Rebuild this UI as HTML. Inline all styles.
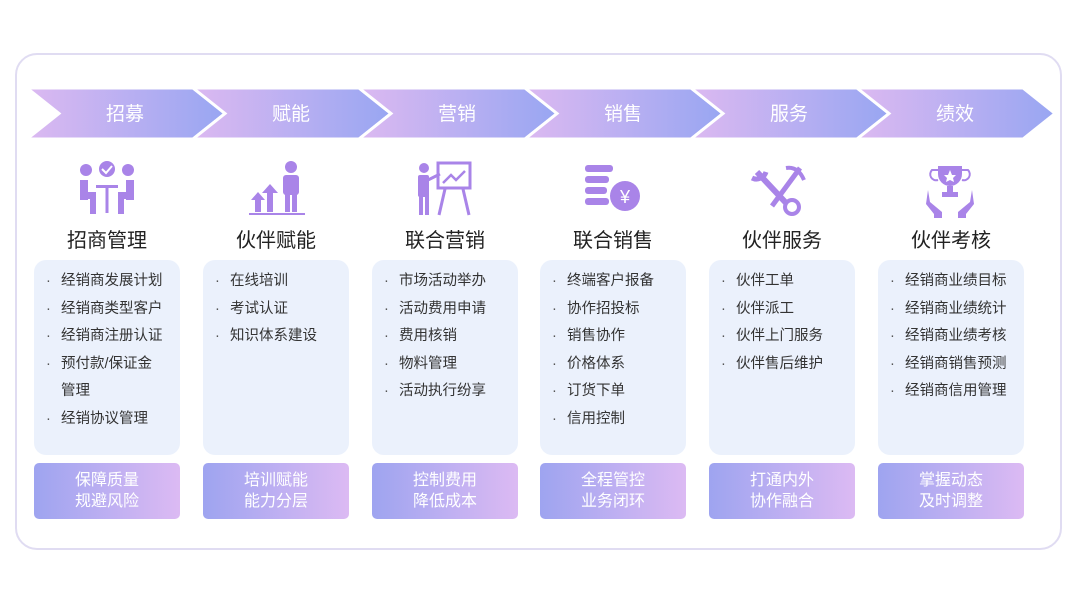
<!DOCTYPE html>
<html><head><meta charset="utf-8"><style>
body{margin:0;width:1080px;height:607px;background:#fff;position:relative;overflow:hidden;font-family:"Liberation Sans","Noto Sans CJK SC",sans-serif;}
.outer{position:absolute;left:15px;top:53px;width:1047px;height:497px;border:2px solid #e0dcf2;border-radius:22px;box-sizing:border-box;}
.ttl{position:absolute;top:224px;width:146px;text-align:center;font-size:20px;color:#222;}
.card{position:absolute;top:260px;width:146px;height:195px;background:#ebf1fc;border-radius:12px;box-sizing:border-box;padding:8px 0 0 12px;}
.card div{font-size:14.5px;color:#333;line-height:27.6px;padding-left:15px;position:relative;white-space:nowrap;}
.card div.b:before{content:"·";position:absolute;left:0;color:#555;}
.bot{position:absolute;top:463px;width:146px;height:56px;border-radius:5px;background:linear-gradient(90deg,#9ea4f0,#dcbaf3);color:#fff;font-size:16px;text-align:center;line-height:21px;padding-top:7px;box-sizing:border-box;}
.ch{position:absolute;top:99px;width:166px;text-align:center;font-size:19px;color:#fff;}
</style></head><body>
<div class="outer"></div>
<svg width="1080" height="607" style="position:absolute;left:0;top:0">
<defs><linearGradient id="g" x1="0" x2="1" y1="0" y2="0"><stop offset="0" stop-color="#dcb9f1"/><stop offset="1" stop-color="#98a6f2"/></linearGradient></defs>
<g stroke="#fff" stroke-width="3" fill="url(#g)">
<polygon points="27,88 193,88 225,113.5 193,139 27,139 59,113.5"/>
<polygon points="193,88 359,88 391,113.5 359,139 193,139 225,113.5"/>
<polygon points="359,88 525,88 557,113.5 525,139 359,139 391,113.5"/>
<polygon points="525,88 691,88 723,113.5 691,139 525,139 557,113.5"/>
<polygon points="691,88 857,88 889,113.5 857,139 691,139 723,113.5"/>
<polygon points="857,88 1023,88 1055,113.5 1023,139 857,139 889,113.5"/>
</g>
<g fill="#a984e8">
<circle cx="86" cy="170" r="6"/><circle cx="128" cy="170" r="6"/><circle cx="107" cy="169" r="8"/>
<path d="M102 169l4 4 6-7" stroke="#fff" stroke-width="2" fill="none"/>
<rect x="80" y="180" width="8" height="20"/><rect x="80" y="192" width="16" height="7"/><rect x="90" y="199" width="6" height="15"/>
<rect x="126" y="180" width="8" height="20"/><rect x="118" y="192" width="16" height="7"/><rect x="118" y="199" width="6" height="15"/>
<rect x="96" y="185" width="22" height="3"/><rect x="105.5" y="185" width="3" height="28"/>
<rect x="249" y="213" width="56" height="2"/>
<polygon points="251,200 258,192 265,200 261,200 261,212 255,212 255,200"/>
<polygon points="262,193 270,184 278,193 273,193 273,212 267,212 267,193"/>
<circle cx="291" cy="167" r="6"/><rect x="283" y="175" width="16" height="20" rx="3"/><rect x="285" y="192" width="5" height="20"/><rect x="292" y="192" width="5" height="20"/>
<circle cx="424" cy="168" r="5"/><rect x="418" y="175" width="11" height="22" rx="2"/><rect x="419" y="195" width="4" height="20"/><rect x="425" y="195" width="4" height="20"/>
<rect x="438" y="163" width="32" height="25" fill="none" stroke="#a984e8" stroke-width="3"/>
<path d="M443 183l8-8 5 5 9-9" stroke="#a984e8" stroke-width="2.5" fill="none"/>
<path d="M445 189l-6 26M463 189l6 26" stroke="#a984e8" stroke-width="3"/>
<path d="M428 180l12-6" stroke="#a984e8" stroke-width="3"/>
<rect x="585" y="165" width="28" height="7" rx="3"/><rect x="585" y="176" width="24" height="7" rx="3"/><rect x="585" y="187" width="22" height="7" rx="3"/><rect x="585" y="198" width="24" height="7" rx="3"/>
<circle cx="625" cy="196" r="15"/>
<text x="625" y="203" font-size="18" fill="#fff" text-anchor="middle" font-family="Liberation Sans">¥</text>
<path d="M757 172l30 32" stroke="#a984e8" stroke-width="6"/>
<path d="M752 178a10 10 0 0 0 14-6" stroke="#a984e8" stroke-width="5" fill="none"/>
<path d="M800 168l-28 38" stroke="#a984e8" stroke-width="5"/>
<path d="M786 168q12-2 18 12" stroke="#a984e8" stroke-width="4" fill="none"/>
<circle cx="792" cy="207" r="7" fill="none" stroke="#a984e8" stroke-width="4"/>
<path d="M938 166h24v8a12 12 0 0 1-24 0z"/>
<path d="M938 170h-6a6 6 0 0 0 6 10M962 170h6a6 6 0 0 1-6 10" stroke="#a984e8" stroke-width="2" fill="none"/>
<rect x="947" y="186" width="6" height="6"/><rect x="942" y="192" width="16" height="5"/>
<path d="M928 190l2 12 12 10v6h-8v-4l-8-10z"/>
<path d="M972 190l-2 12-12 10v6h8v-4l8-10z"/>
<polygon points="950,170 952,175 956,175 953,178 954,182 950,180 946,182 947,178 944,175 948,175" fill="#fff"/>
</g>
</svg>
<div class="ch" style="left:42px">招募</div><div class="ch" style="left:208px">赋能</div><div class="ch" style="left:374px">营销</div><div class="ch" style="left:540px">销售</div><div class="ch" style="left:706px">服务</div><div class="ch" style="left:872px">绩效</div>

<div class="ttl" style="left:34px">招商管理</div><div class="ttl" style="left:203px">伙伴赋能</div><div class="ttl" style="left:372px">联合营销</div><div class="ttl" style="left:540px">联合销售</div><div class="ttl" style="left:709px">伙伴服务</div><div class="ttl" style="left:878px">伙伴考核</div>

<div class="card" style="left:34px"><div class="b">经销商发展计划</div><div class="b">经销商类型客户</div><div class="b">经销商注册认证</div><div class="b">预付款/保证金</div><div>管理</div><div class="b">经销协议管理</div></div>
<div class="card" style="left:203px"><div class="b">在线培训</div><div class="b">考试认证</div><div class="b">知识体系建设</div></div>
<div class="card" style="left:372px"><div class="b">市场活动举办</div><div class="b">活动费用申请</div><div class="b">费用核销</div><div class="b">物料管理</div><div class="b">活动执行纷享</div></div>
<div class="card" style="left:540px"><div class="b">终端客户报备</div><div class="b">协作招投标</div><div class="b">销售协作</div><div class="b">价格体系</div><div class="b">订货下单</div><div class="b">信用控制</div></div>
<div class="card" style="left:709px"><div class="b">伙伴工单</div><div class="b">伙伴派工</div><div class="b">伙伴上门服务</div><div class="b">伙伴售后维护</div></div>
<div class="card" style="left:878px"><div class="b">经销商业绩目标</div><div class="b">经销商业绩统计</div><div class="b">经销商业绩考核</div><div class="b">经销商销售预测</div><div class="b">经销商信用管理</div></div>

<div class="bot" style="left:34px">保障质量<br>规避风险</div>
<div class="bot" style="left:203px">培训赋能<br>能力分层</div>
<div class="bot" style="left:372px">控制费用<br>降低成本</div>
<div class="bot" style="left:540px">全程管控<br>业务闭环</div>
<div class="bot" style="left:709px">打通内外<br>协作融合</div>
<div class="bot" style="left:878px">掌握动态<br>及时调整</div>
</body></html>
